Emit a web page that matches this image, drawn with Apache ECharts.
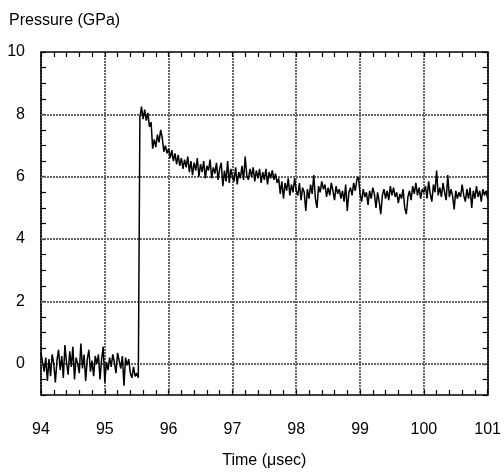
<!DOCTYPE html>
<html>
<head>
<meta charset="utf-8">
<script src="https://cdn.jsdelivr.net/npm/echarts@6/dist/echarts.min.js"></script>
<style>
html,body{margin:0;padding:0;background:#fff;}
#c{width:504px;height:474px;}
</style>
</head>
<body>
<div id="c"></div>
<script>
// Time sampling of the trace (µsec)
const T_START = 94;
const T_STEP = 0.025;

// Pressure values (GPa), in consecutive time order
const preShock = [0.35, 0.05, -0.25, 0.2, -0.55, 0.15, -0.4, 0.3, 0.0, -0.6,
  0.1, 0.45, -0.2, 0.25, -0.45, 0.6, 0.05, -0.35, 0.4, -0.1,
  0.55, -0.5, 0.2, 0.0, -0.3, 0.65, -0.15, 0.3, -0.55, 0.15,
  0.45, -0.25, 0.1, -0.4, 0.25, 0.0, 0.3, -0.5, 0.15, 0.55,
  -0.6, 0.05, -0.2, 0.2, -0.1, 0.3, 0.05, -0.3, 0.35, 0.1,
  -0.15, 0.25, -0.7, 0.2, -0.05, 0.15, -0.3, -0.45, -0.1, -0.4,
  -0.3, -0.45];
const shockFront = [7.9, 8.25, 7.85, 8.15, 7.8, 8.05, 7.6, 7.75, 6.9, 7.2,
  6.95, 7.35, 7.1, 7.5, 7.25, 6.8, 7.0, 6.75, 6.9];
const decayTo97 = [6.6, 6.85, 6.5, 6.75, 6.4, 6.7, 6.35, 6.6, 6.25, 6.55,
  6.3, 6.65, 6.15, 6.5, 6.05, 6.45, 6.2, 6.6, 6.0, 6.4,
  6.15, 6.5, 5.95, 6.35, 6.2, 6.55, 5.95, 6.3, 6.1, 6.45,
  5.9, 6.25, 6.45, 5.7, 6.2, 5.85, 6.5, 5.8, 6.25, 6.0];
const decayTo98 = [5.85, 6.3, 5.75, 6.15, 5.95, 6.35, 5.9, 6.65, 6.05, 5.9,
  6.25, 6.0, 6.3, 5.85, 6.2, 5.95, 6.25, 5.8, 6.15, 5.9,
  6.25, 5.75, 6.15, 5.95, 6.2, 5.9, 6.1, 5.8, 5.95, 5.45,
  5.85, 5.3, 5.8, 5.55, 5.95, 5.4, 5.75, 5.5, 5.95, 5.55];
const plateauTo99 = [5.4, 5.8, 5.25, 5.65, 5.5, 4.9, 5.6, 5.3, 5.75, 5.45,
  6.05, 5.3, 5.0, 5.7, 5.5, 5.85, 5.6, 5.75, 5.35, 5.65,
  5.4, 5.8, 5.55, 5.25, 5.7, 5.45, 5.6, 5.3, 5.55, 5.2,
  5.75, 4.9, 5.5, 5.65, 5.4, 5.8, 5.55, 5.9, 6.0, 5.45];
const plateauTo100 = [5.2, 5.6, 5.35, 5.5, 5.1, 5.55, 5.3, 5.65, 5.45, 5.0,
  5.5, 5.2, 4.8, 5.4, 5.6, 5.3, 5.55, 5.25, 5.7, 5.4,
  5.65, 5.35, 5.5, 5.15, 5.45, 5.3, 5.6, 5.0, 4.8, 5.35,
  5.55, 5.25, 5.7, 5.45, 5.8, 5.4, 5.65, 5.3, 5.6, 5.5];
const plateauTo101 = [5.7, 5.3, 5.85, 5.45, 5.2, 5.75, 5.5, 6.2, 5.4, 5.65,
  5.35, 5.8, 5.5, 5.25, 6.05, 5.35, 5.6, 5.4, 4.95, 5.55,
  5.3, 5.5, 5.35, 5.75, 5.4, 5.2, 5.6, 5.3, 5.65, 5.0,
  5.55, 5.3, 5.7, 5.35, 5.55, 5.2, 5.6, 5.4, 5.55, 5.3];

// Axis tick values
const xTicks = [94, 95, 96, 97, 98, 99, 100, 101];
const yTicks = [0, 2, 4, 6, 8, 10];
const yGridValues = [0, 2, 4, 6, 8];

const pressure = [].concat(preShock, shockFront, decayTo97, decayTo98, plateauTo99, plateauTo100, plateauTo101);
const seriesData = pressure.map((v, i) => [Math.round((T_START + i * T_STEP) * 1000) / 1000, v]);

const FONT = 'Liberation Sans, Arial, sans-serif';
const gridStyle = { color: '#666', width: 2, type: [2, 1] };
const axisLineStyle = { color: '#000', width: 1.5 };

const commonX = {
  type: 'value',
  min: xTicks[0],
  max: xTicks[xTicks.length - 1],
  interval: 1,
  axisLine: { show: true, onZero: false, lineStyle: axisLineStyle },
  axisTick: { show: true, inside: true, length: 5, lineStyle: { color: '#000', width: 1.2 } },
  minorTick: { show: true, splitNumber: 5, length: 5, lineStyle: { color: '#000', width: 1.2 } },
  minorSplitLine: { show: false }
};
const commonY = {
  type: 'value',
  min: -1,
  max: yTicks[yTicks.length - 1],
  interval: 1,
  axisLine: { show: true, onZero: false, lineStyle: axisLineStyle },
  axisTick: { show: true, inside: true, length: 5, lineStyle: { color: '#000', width: 1.2 } },
  minorTick: { show: true, splitNumber: 2, length: 5, lineStyle: { color: '#000', width: 1.2 } },
  minorSplitLine: { show: false },
  splitLine: { show: false }
};

const chart = echarts.init(document.getElementById('c'), null, { renderer: 'canvas' });
chart.setOption({
  animation: false,
  backgroundColor: '#fff',
  title: {
    text: 'Pressure (GPa)',
    left: 4,
    top: 8,
    textStyle: { fontFamily: FONT, fontSize: 16, fontWeight: 'normal', color: '#000' }
  },
  grid: { left: 41, right: 14, top: 52, bottom: 73, containLabel: false },
  xAxis: [
    Object.assign({}, commonX, {
      position: 'bottom',
      name: 'Time (μsec)',
      nameLocation: 'middle',
      nameGap: 58,
      nameTextStyle: { fontFamily: FONT, fontSize: 16, color: '#000' },
      axisLabel: { show: true, margin: 27, fontFamily: FONT, fontSize: 16, color: '#000' },
      splitLine: { show: true, lineStyle: gridStyle }
    }),
    Object.assign({}, commonX, {
      position: 'top',
      axisLabel: { show: false },
      splitLine: { show: false }
    })
  ],
  yAxis: [
    Object.assign({}, commonY, {
      position: 'left',
      axisLabel: {
        show: true, margin: 16, fontFamily: FONT, fontSize: 16, color: '#000',
        formatter: v => (yTicks.indexOf(v) >= 0 ? String(v) : '')
      }
    }),
    Object.assign({}, commonY, {
      position: 'right',
      axisLabel: { show: false }
    })
  ],
  series: [
    {
      type: 'line',
      xAxisIndex: 0,
      yAxisIndex: 0,
      data: seriesData,
      showSymbol: false,
      symbol: 'none',
      z: 3,
      lineStyle: { color: '#000', width: 1.5 },
      markLine: {
        silent: true,
        symbol: ['none', 'none'],
        z: 1,
        label: { show: false },
        lineStyle: gridStyle,
        data: yGridValues.map(v => ({ yAxis: v }))
      }
    }
  ]
});
</script>
</body>
</html>
